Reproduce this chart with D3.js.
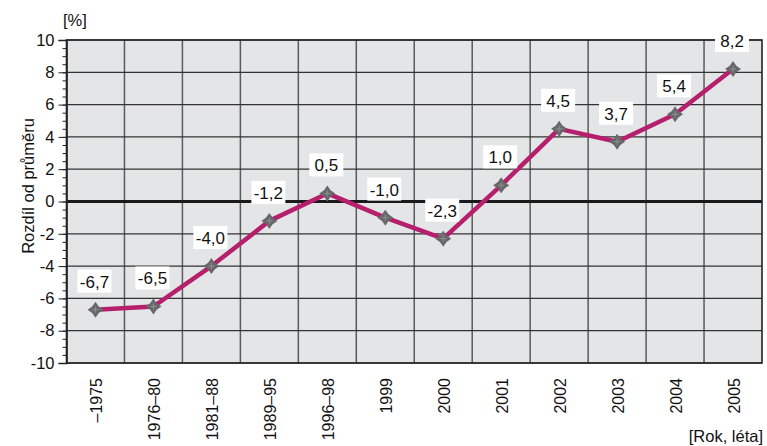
<!DOCTYPE html>
<html>
<head>
<meta charset="utf-8">
<script src="https://cdn.jsdelivr.net/npm/d3@7/dist/d3.min.js"></script>
<style>
  body { margin: 0; background: #fff; }
  svg text { font-family: "Liberation Sans", Arial, sans-serif; fill: #111; }
</style>
</head>
<body>
<svg id="chart"></svg>
<script>
// Chart size
const width = 767, height = 446;
const margin = { top: 40, right: 5, bottom: 83, left: 66.5 };

// Data
const categories = ["–1975", "1976–80", "1981–88", "1989–95", "1996–98", "1999",
                    "2000", "2001", "2002", "2003", "2004", "2005"];
const values = [-6.7, -6.5, -4.0, -1.2, 0.5, -1.0, -2.3, 1.0, 4.5, 3.7, 5.4, 8.2];
const yTicks = [-10, -8, -6, -4, -2, 0, 2, 4, 6, 8, 10];

const svg = d3.select("#chart")
    .attr("width", width)
    .attr("height", height);

// Scales
const x = d3.scaleBand()
    .domain(categories)
    .range([margin.left, width - margin.right])
    .padding(0);

const y = d3.scaleLinear()
    .domain([-10, 10])
    .range([height - margin.bottom, margin.top]);

// Plot background
svg.append("rect")
    .attr("x", margin.left)
    .attr("y", margin.top)
    .attr("width", width - margin.left - margin.right)
    .attr("height", height - margin.top - margin.bottom)
    .attr("fill", "#e4e5e7");

// Vertical grid lines (between categories)
svg.append("g")
    .selectAll("line")
    .data(categories.slice(1))
    .join("line")
    .attr("x1", d => x(d))
    .attr("x2", d => x(d))
    .attr("y1", margin.top)
    .attr("y2", height - margin.bottom)
    .attr("stroke", "#5a5a5a")
    .attr("stroke-width", 1.5);

// Horizontal grid lines
svg.append("g")
    .selectAll("line")
    .data(yTicks)
    .join("line")
    .attr("x1", margin.left)
    .attr("x2", width - margin.right)
    .attr("y1", d => y(d))
    .attr("y2", d => y(d))
    .attr("stroke", d => d === 0 ? "#1a1a1a" : "#333")
    .attr("stroke-width", d => d === 0 ? 3 : 1.2);

// Plot frame
svg.append("rect")
    .attr("x", margin.left)
    .attr("y", margin.top)
    .attr("width", width - margin.left - margin.right)
    .attr("height", height - margin.top - margin.bottom)
    .attr("fill", "none")
    .attr("stroke", "#222")
    .attr("stroke-width", 1.6);

// Minor ticks every 0.5
svg.append("g")
    .attr("transform", `translate(${margin.left},0)`)
    .call(d3.axisLeft(y).tickValues(d3.range(-10, 10.01, 0.5)).tickSize(4).tickFormat(""))
    .call(g => g.select(".domain").remove())
    .selectAll("line").attr("stroke", "#222");

// Major y axis
const yAxis = svg.append("g")
    .attr("transform", `translate(${margin.left},0)`)
    .call(d3.axisLeft(y).tickValues(yTicks).tickSize(8).tickPadding(4));
yAxis.select(".domain").attr("stroke", "#222").attr("stroke-width", 1.6);
yAxis.selectAll("line").attr("stroke", "#222");
yAxis.selectAll("text")
    .style("font-size", "16.5px")
    .attr("fill", "#111")
    .text(d => d < 0 ? "-" + Math.abs(d) : d);

// X category labels (rotated)
svg.append("g")
    .selectAll("text")
    .data(categories)
    .join("text")
    .attr("transform", d => `translate(${x(d) + x.bandwidth() / 2 + 1},${height - margin.bottom + 15}) rotate(-90)`)
    .attr("text-anchor", "end")
    .attr("dy", "0.35em")
    .style("font-size", "16px")
    .text(d => d);

// Axis titles
svg.append("text")
    .attr("x", 63)
    .attr("y", 26)
    .style("font-size", "16.5px")
    .text("[%]");

svg.append("text")
    .attr("transform", "translate(34,186) rotate(-90)")
    .attr("text-anchor", "middle")
    .style("font-size", "16.5px")
    .text("Rozdíl od průměru");

svg.append("text")
    .attr("x", 763)
    .attr("y", 442)
    .attr("text-anchor", "end")
    .style("font-size", "16.5px")
    .text("[Rok, léta]");

// Data line
const points = categories.map((c, i) => ({ c, v: values[i] }));
const line = d3.line()
    .x(d => x(d.c) + x.bandwidth() / 2)
    .y(d => y(d.v));

svg.append("path")
    .datum(points)
    .attr("d", line)
    .attr("fill", "none")
    .attr("stroke", "#b51f6c")
    .attr("stroke-width", 4.5)
    .attr("stroke-linejoin", "round");

// Star-like diamond markers
const star = "M0,-8 L3.3,-3.3 L8,0 L3.3,3.3 L0,8 L-3.3,3.3 L-8,0 L-3.3,-3.3 Z";
const markers = svg.append("g")
    .selectAll("g")
    .data(points)
    .join("g")
    .attr("transform", d => `translate(${x(d.c) + x.bandwidth() / 2},${y(d.v)})`);
markers.append("path")
    .attr("d", star)
    .attr("fill", "#68686a");
markers.append("path")
    .attr("d", "M-3,0 L3,0 M0,-3 L0,3")
    .attr("stroke", "#909092")
    .attr("stroke-width", 1);

// Value labels in white boxes
const labels = svg.append("g")
    .selectAll("g")
    .data(points)
    .join("g")
    .attr("transform", d => `translate(${x(d.c) + x.bandwidth() / 2 - 1},${y(d.v) - 17})`);
labels.append("rect")
    .attr("x", -17)
    .attr("y", -23)
    .attr("width", 34)
    .attr("height", 23)
    .attr("fill", "#fff");
labels.append("text")
    .attr("text-anchor", "middle")
    .attr("y", -5)
    .style("font-size", "17px")
    .text(d => d3.format(".1f")(d.v).replace(".", ",").replace("−", "-"));
</script>
</body>
</html>
